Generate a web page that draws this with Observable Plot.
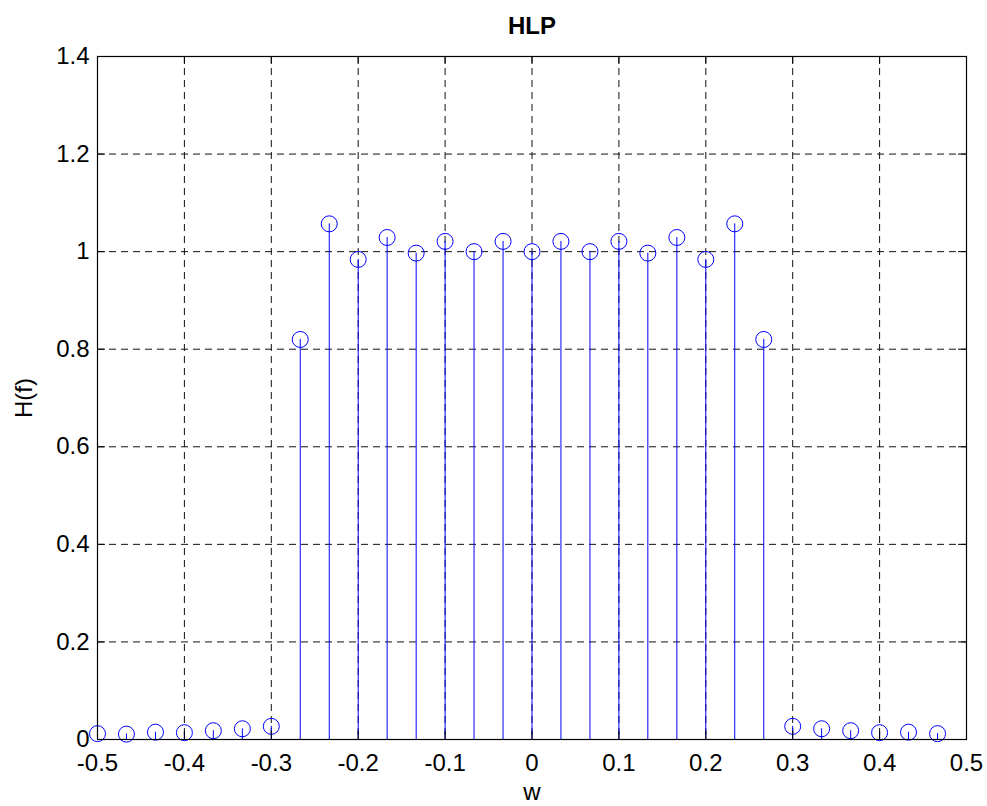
<!DOCTYPE html>
<html>
<head>
<meta charset="utf-8">
<script src="https://cdn.jsdelivr.net/npm/d3@7"></script>
<script src="https://cdn.jsdelivr.net/npm/@observablehq/plot@0.6"></script>
<style>
  html, body { margin: 0; padding: 0; background: #fff; }
</style>
</head>
<body>
<div id="chart"></div>
<script>
// Data (stem plot of H(f) vs w)
const freqs = [
  -0.5000, -0.4667, -0.4333, -0.4000, -0.3667, -0.3333, -0.3000, -0.2667, -0.2333, -0.2000,
  -0.1667, -0.1333, -0.1000, -0.0667, -0.0333, 0.0000, 0.0333, 0.0667, 0.1000, 0.1333,
  0.1667, 0.2000, 0.2333, 0.2667, 0.3000, 0.3333, 0.3667, 0.4000, 0.4333, 0.4667
];
const hValues = [
  0.012, 0.011, 0.015, 0.014, 0.018, 0.022, 0.027, 0.820, 1.057, 0.984,
  1.029, 0.997, 1.021, 1.000, 1.021, 1.000, 1.021, 1.000, 1.021, 0.997,
  1.029, 0.984, 1.057, 0.820, 0.027, 0.022, 0.018, 0.014, 0.015, 0.012
];
const xTicks = [-0.5, -0.4, -0.3, -0.2, -0.1, 0, 0.1, 0.2, 0.3, 0.4, 0.5];
const yTicks = [0, 0.2, 0.4, 0.6, 0.8, 1.0, 1.2, 1.4];
const titleText = "HLP";
const xLabel = "w";
const yLabel = "H(f)";

const data = freqs.map((f, i) => ({w: f, h: hValues[i]}));

const W = 987, H = 806;
const mL = 97, mR = 21, mT = 56, mB = 67;
const plotW = W - mL - mR, plotH = H - mT - mB;
const tickLen = 8;
const fs = 24;
const fmt = d => String(+d.toFixed(1));

const chart = Plot.plot({
  width: W,
  height: H,
  marginLeft: mL,
  marginRight: mR,
  marginTop: mT,
  marginBottom: mB,
  style: {
    fontFamily: "'Liberation Sans', Arial, Helvetica, sans-serif",
    fontSize: fs + "px",
    color: "black",
    background: "white",
    overflow: "visible"
  },
  x: {domain: [-0.5, 0.5]},
  y: {domain: [0, 1.4]},
  marks: [
    Plot.gridX(xTicks, {stroke: "#111", strokeOpacity: 1, strokeWidth: 1, strokeDasharray: "7,5"}),
    Plot.gridY(yTicks, {stroke: "#111", strokeOpacity: 1, strokeWidth: 1, strokeDasharray: "7,5"}),
    Plot.ruleX(data, {x: "w", y1: 0, y2: "h", stroke: "#0000ff", strokeWidth: 1}),
    Plot.dot(data, {x: "w", y: "h", r: 8, stroke: "#0000ff", fill: "none", strokeWidth: 1}),
    Plot.frame({stroke: "black", strokeWidth: 1.2}),
    // inward ticks on all four sides
    Plot.ruleX(xTicks, {x: d => d, insetTop: plotH - tickLen, stroke: "black"}),
    Plot.ruleX(xTicks, {x: d => d, insetBottom: plotH - tickLen, stroke: "black"}),
    Plot.ruleY(yTicks, {y: d => d, insetRight: plotW - tickLen, stroke: "black"}),
    Plot.ruleY(yTicks, {y: d => d, insetLeft: plotW - tickLen, stroke: "black"}),
    Plot.axisX(xTicks, {tickSize: 0, tickPadding: 14, tickFormat: fmt, label: null, fontSize: fs}),
    Plot.axisY(yTicks, {tickSize: 0, tickPadding: 8, tickFormat: fmt, label: null, fontSize: fs}),
    Plot.text([titleText], {text: d => d, frameAnchor: "top", lineAnchor: "middle", textAnchor: "middle", dy: -30, fontWeight: "bold", fontSize: fs}),
    Plot.text([xLabel], {text: d => d, frameAnchor: "bottom", lineAnchor: "middle", textAnchor: "middle", dy: 53, fontSize: fs}),
    Plot.text([yLabel], {text: d => d, frameAnchor: "left", lineAnchor: "middle", textAnchor: "middle", dx: -73, rotate: -90, fontSize: fs})
  ]
});

document.getElementById("chart").appendChild(chart);
</script>
</body>
</html>
